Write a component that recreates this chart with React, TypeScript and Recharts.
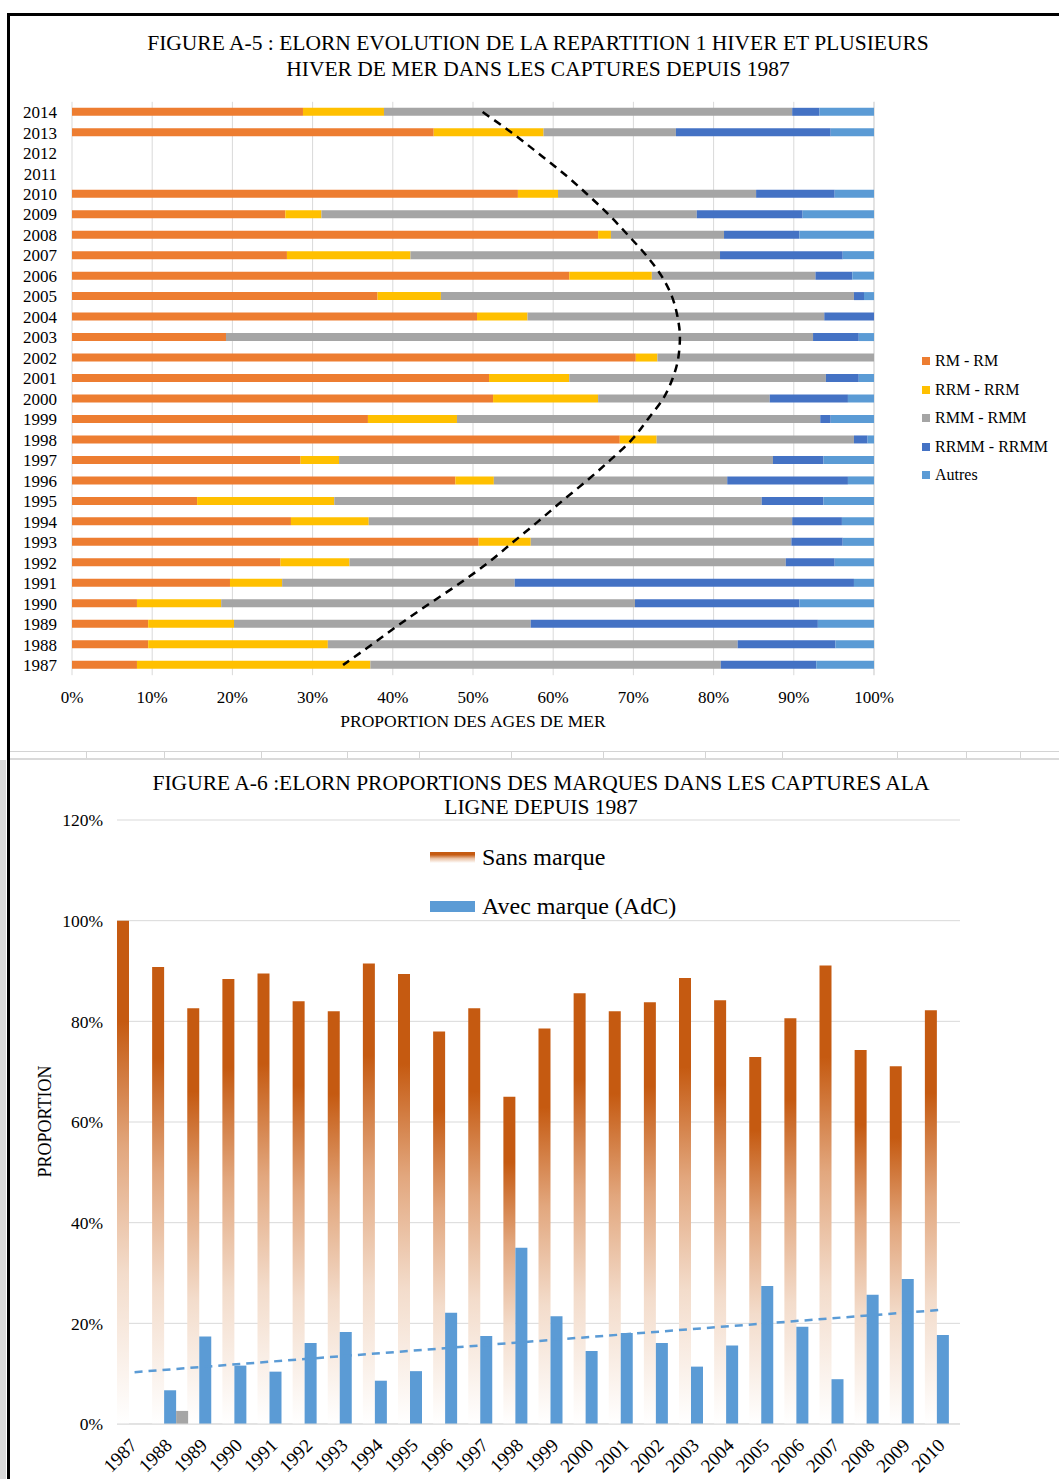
import React from 'react';
import { ComposedChart, Bar, Line, XAxis, YAxis, CartesianGrid, Legend } from 'recharts';

const FONT = '"Liberation Serif", "Times New Roman", serif';

// ---------- Figure A-5 data (percent of catches, top row first) ----------
const years5 = ['2014', '2013', '2012', '2011', '2010', '2009', '2008', '2007', '2006', '2005', '2004', '2003', '2002', '2001', '2000', '1999', '1998', '1997', '1996', '1995', '1994', '1993', '1992', '1991', '1990', '1989', '1988', '1987'];
const rmRm = [28.8, 45.1, null, null, 55.6, 26.6, 65.6, 26.8, 62.0, 38.1, 50.5, 19.2, 70.3, 52.0, 52.5, 36.9, 68.3, 28.5, 47.8, 15.6, 27.3, 50.7, 26.0, 19.7, 8.1, 9.5, 9.5, 8.1];
const rrmRrm = [10.1, 13.7, null, null, 5.0, 4.5, 1.6, 15.4, 10.3, 7.9, 6.3, 0, 2.7, 10.0, 13.1, 11.1, 4.6, 4.8, 4.8, 17.1, 9.7, 6.5, 8.6, 6.5, 10.5, 10.7, 22.4, 29.1];
const rmmRmm = [50.9, 16.5, null, null, 24.7, 46.8, 14.1, 38.6, 20.4, 51.5, 37.0, 73.2, 27.0, 32.0, 21.4, 45.3, 24.6, 54.1, 29.1, 53.3, 52.8, 32.5, 54.4, 29.0, 51.6, 37.0, 51.1, 43.7];
const rrmmRrmm = [3.4, 19.3, null, null, 9.8, 13.2, 9.4, 15.3, 4.6, 1.25, 6.2, 5.7, 0, 4.1, 9.75, 1.3, 1.7, 6.3, 15.05, 7.7, 6.2, 6.4, 6.1, 42.3, 20.5, 35.8, 12.2, 11.9];
const autres = [6.8, 5.4, null, null, 4.9, 8.9, 9.3, 3.9, 2.7, 1.25, 0, 1.9, 0, 1.9, 3.25, 5.4, 0.8, 6.3, 3.25, 6.3, 4.0, 3.9, 4.9, 2.5, 9.3, 7.0, 4.8, 7.2];
// hand-drawn dashed curve: its x position (percent) on each row
const curvePct = [51.2, 54.8, 58.1, 61.3, 64.2, 66.9, 69.3, 71.6, 73.5, 74.8, 75.5, 75.8, 75.6, 74.9, 73.7, 71.8, 69.8, 67.1, 64.2, 61.1, 58.1, 55.0, 51.9, 48.4, 44.6, 40.9, 37.4, 33.8];
const pctTicks5 = [0, 10, 20, 30, 40, 50, 60, 70, 80, 90, 100];

const series5 = [
  { key: 'rm', name: 'RM - RM', color: '#ED7D31' },
  { key: 'rrm', name: 'RRM - RRM', color: '#FFC000' },
  { key: 'rmm', name: 'RMM - RMM', color: '#A5A5A5' },
  { key: 'rrmm', name: 'RRMM - RRMM', color: '#4472C4' },
  { key: 'autres', name: 'Autres', color: '#5B9BD5' },
];

const data5 = years5.map((year, i) => ({
  year,
  rm: rmRm[i],
  rrm: rrmRrm[i],
  rmm: rmmRmm[i],
  rrmm: rrmmRrmm[i],
  autres: autres[i],
  curve: curvePct[i],
}));

// ---------- Figure A-6 data (percent) ----------
const years6 = ['1987', '1988', '1989', '1990', '1991', '1992', '1993', '1994', '1995', '1996', '1997', '1998', '1999', '2000', '2001', '2002', '2003', '2004', '2005', '2006', '2007', '2008', '2009', '2010'];
const sansMarque = [100, 90.8, 82.6, 88.4, 89.5, 84.0, 82.0, 91.5, 89.4, 78.0, 82.6, 65.0, 78.6, 85.6, 82.0, 83.8, 88.6, 84.2, 72.9, 80.6, 91.1, 74.3, 71.1, 82.2];
const avecMarque = [null, 6.7, 17.4, 11.6, 10.4, 16.1, 18.3, 8.6, 10.5, 22.1, 17.5, 35.0, 21.4, 14.5, 18.1, 16.1, 11.4, 15.6, 27.4, 19.3, 8.9, 25.7, 28.8, 17.7];
const autreMarque = [null, 2.6, null, null, null, null, null, null, null, null, null, null, null, null, null, null, null, null, null, null, null, null, null, null];
// dashed trendline of "Avec marque", end points
const trendAvec = [10.3, null, null, null, null, null, null, null, null, null, null, null, null, null, null, null, null, null, null, null, null, null, null, 22.7];
const pctTicks6 = [0, 20, 40, 60, 80, 100, 120];

const data6 = years6.map((year, i) => ({
  year,
  sans: sansMarque[i],
  avec: avecMarque[i],
  autre: autreMarque[i],
  trend: trendAvec[i],
}));

const legend6 = [
  { name: 'Sans marque', bg: 'linear-gradient(to bottom, #C55A11 0%, #C55A11 25%, #EBC3A6 60%, #FFFFFF 100%)' },
  { name: 'Avec marque (AdC)', bg: '#5B9BD5' },
];

const TopLegend = () => (
  <div style={{ fontFamily: FONT, fontSize: 16, color: '#000' }}>
    {series5.map((s) => (
      <div key={s.key} style={{ display: 'flex', alignItems: 'center', height: 28.5, whiteSpace: 'nowrap' }}>
        <span style={{ display: 'inline-block', width: 8, height: 8, background: s.color, marginRight: 5 }} />
        {s.name}
      </div>
    ))}
  </div>
);

const BottomLegend = () => (
  <div style={{ fontFamily: FONT, fontSize: 24, color: '#000' }}>
    {legend6.map((s) => (
      <div key={s.name} style={{ display: 'flex', alignItems: 'center', height: 49, whiteSpace: 'nowrap' }}>
        <span style={{ display: 'inline-block', width: 45, height: 11, background: s.bg, marginRight: 7 }} />
        {s.name}
      </div>
    ))}
  </div>
);

const RotTick = (props: any) => {
  const { x, y, payload } = props;
  const ax = x - 6;
  const ay = y + 5;
  return (
    <text x={ax} y={ay} transform={`rotate(-45, ${ax}, ${ay})`} textAnchor="end" dominantBaseline="hanging"
      fontSize={19} fontFamily={FONT} fill="#000">
      {payload.value}
    </text>
  );
};

const sepTicks = [86, 164, 261, 347, 419, 511, 603, 705, 782, 897, 966, 1020];

export default function App() {
  return (
    <div style={{ position: 'absolute', left: 0, top: 0, width: 1059, height: 1479, background: '#fff', overflow: 'hidden' }}>
      {/* frame */}
      <div style={{ position: 'absolute', left: 0, top: 760, width: 6, height: 719, background: '#D9D9D9' }} />
      <div style={{ position: 'absolute', left: 8, top: 13, width: 1051, height: 2.5, background: '#000' }} />
      <div style={{ position: 'absolute', left: 7, top: 13, width: 2.5, height: 1466, background: '#000' }} />
      <div style={{ position: 'absolute', left: 10, top: 751, width: 1049, height: 6, borderTop: '1px solid #D4D4D4', borderBottom: '2px solid #DADADA' }} />
      {sepTicks.map((x) => (
        <div key={x} style={{ position: 'absolute', left: x, top: 752, width: 1, height: 6, background: '#D4D4D4' }} />
      ))}

      {/* Figure A-5 */}
      <div style={{ position: 'absolute', left: 38, top: 30, width: 1000, textAlign: 'center', fontFamily: FONT, fontSize: 21.5, lineHeight: '26px', color: '#000', whiteSpace: 'nowrap' }}>
        FIGURE A-5 : ELORN EVOLUTION DE LA REPARTITION 1 HIVER ET PLUSIEURS<br />
        HIVER DE MER DANS LES CAPTURES DEPUIS 1987
      </div>
      <div style={{ position: 'absolute', left: 0, top: 0 }}>
        <ComposedChart
          layout="vertical"
          width={1059}
          height={750}
          data={data5}
          margin={{ top: 101.8, right: 185, bottom: 24.8, left: 0 }}
        >
          <CartesianGrid horizontal={false} stroke="#D9D9D9" />
          <XAxis
            type="number"
            domain={[0, 100]}
            ticks={pctTicks5}
            tickFormatter={(v: number) => `${v}%`}
            axisLine={false}
            tickLine={false}
            tickSize={0}
            tickMargin={16}
            height={50}
            tick={{ fontFamily: FONT, fontSize: 17, fill: '#000' }}
            interval={0}
          />
          <YAxis
            type="category"
            dataKey="year"
            width={72}
            axisLine={false}
            tickLine={false}
            tickSize={0}
            tickMargin={15}
            interval={0}
            tick={{ fontFamily: FONT, fontSize: 17, fill: '#000' }}
          />
          {series5.map((s) => (
            <Bar key={s.key} dataKey={s.key} name={s.name} stackId="a" fill={s.color} barSize={8} isAnimationActive={false} />
          ))}
          <Line
            dataKey="curve"
            type="monotone"
            stroke="#000"
            strokeWidth={2.5}
            strokeDasharray="8 6"
            dot={false}
            activeDot={false}
            legendType="none"
            isAnimationActive={false}
          />
          <Legend
            layout="vertical"
            align="center"
            verticalAlign="middle"
            content={<TopLegend />}
            wrapperStyle={{ left: 922, top: 346.75, width: 137 }}
          />
        </ComposedChart>
      </div>
      <div style={{ position: 'absolute', left: 273, top: 711, width: 400, textAlign: 'center', fontFamily: FONT, fontSize: 17.5, color: '#000', whiteSpace: 'nowrap' }}>
        PROPORTION DES AGES DE MER
      </div>

      {/* Figure A-6 */}
      <div style={{ position: 'absolute', left: 41, top: 771, width: 1000, textAlign: 'center', fontFamily: FONT, fontSize: 21.5, lineHeight: '24px', color: '#000', whiteSpace: 'nowrap' }}>
        FIGURE A-6 :ELORN PROPORTIONS DES MARQUES DANS LES CAPTURES ALA<br />
        LIGNE DEPUIS 1987
      </div>
      <div style={{ position: 'absolute', left: 0, top: 760 }}>
        <ComposedChart
          width={1059}
          height={719}
          data={data6}
          margin={{ top: 60, right: 99, bottom: 0, left: 0 }}
          barCategoryGap={0}
          barGap={0}
        >
          <defs>
            <linearGradient id="sansGrad" x1="0" y1="0" x2="0" y2="1">
              <stop offset="0" stopColor="#C55A11" />
              <stop offset="0.2" stopColor="#C55A11" />
              <stop offset="0.45" stopColor="#E2A77E" />
              <stop offset="0.7" stopColor="#F3DCCB" />
              <stop offset="1" stopColor="#FFFFFF" />
            </linearGradient>
          </defs>
          <CartesianGrid vertical={false} stroke="#D9D9D9" />
          <XAxis
            dataKey="year"
            axisLine={{ stroke: '#D9D9D9' }}
            tickLine={false}
            tickSize={0}
            tickMargin={8}
            height={55}
            interval={0}
            tick={<RotTick />}
          />
          <YAxis
            domain={[0, 120]}
            ticks={pctTicks6}
            tickFormatter={(v: number) => `${v}%`}
            width={117}
            axisLine={false}
            tickLine={false}
            tickSize={0}
            tickMargin={14}
            interval={0}
            tick={{ fontFamily: FONT, fontSize: 17.5, fill: '#000' }}
          />
          <Bar dataKey="sans" name="Sans marque" fill="url(#sansGrad)" isAnimationActive={false} />
          <Bar dataKey="avec" name="Avec marque (AdC)" fill="#5B9BD5" isAnimationActive={false} />
          <Bar dataKey="autre" name="Autre" fill="#A5A5A5" legendType="none" isAnimationActive={false} />
          <Line
            dataKey="trend"
            connectNulls
            stroke="#5B9BD5"
            strokeWidth={2.5}
            strokeDasharray="8 6"
            dot={false}
            activeDot={false}
            legendType="none"
            isAnimationActive={false}
          />
          <Legend
            layout="vertical"
            align="center"
            verticalAlign="middle"
            content={<BottomLegend />}
            wrapperStyle={{ left: 430, top: 72.5, width: 300 }}
          />
        </ComposedChart>
      </div>
      <div style={{ position: 'absolute', left: 45, top: 1122, width: 0, height: 0 }}>
        <div style={{ position: 'absolute', left: -100, top: -11, width: 200, textAlign: 'center', transform: 'rotate(-90deg)', fontFamily: FONT, fontSize: 18, color: '#000', whiteSpace: 'nowrap' }}>
          PROPORTION
        </div>
      </div>
    </div>
  );
}
